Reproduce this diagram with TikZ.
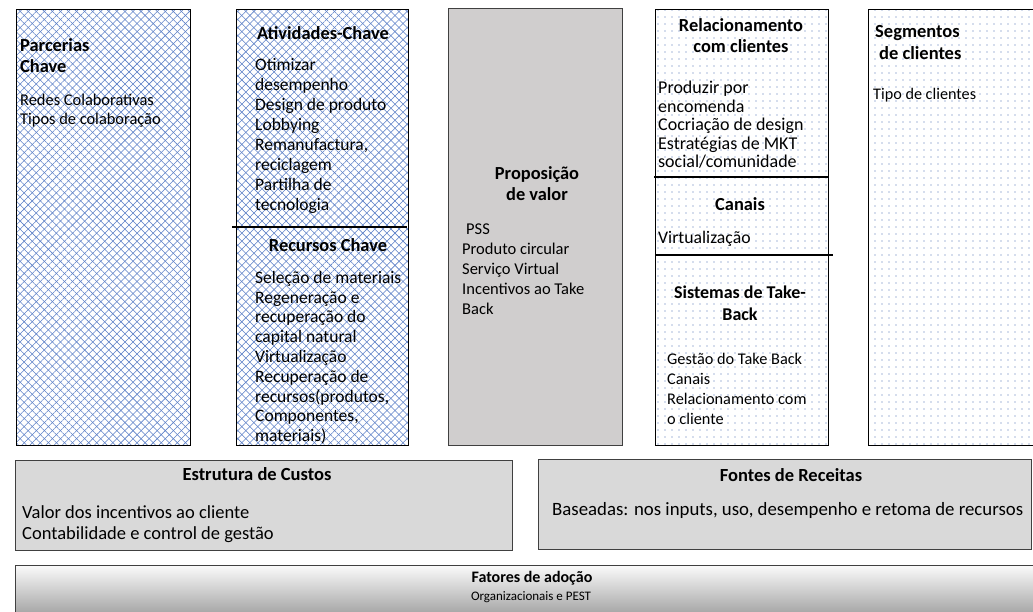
\documentclass[tikz,border=0pt]{standalone}
\usepackage{fontspec}
\setmainfont{Carlito}
\usetikzlibrary{patterns.meta}
\definecolor{hatchblue}{HTML}{5B7FC7}
\definecolor{dotblue}{HTML}{4A6FB5}
\definecolor{propgray}{HTML}{D0CECE}
\definecolor{costgray}{HTML}{D9D9D9}
\definecolor{edgegray}{HTML}{404040}
\definecolor{fatlight}{HTML}{FAFAFA}
\definecolor{fatdark}{HTML}{A2A2A2}
\newcommand{\fsz}[2]{\fontsize{#1pt}{#2pt}\selectfont}
\begin{document}
\begin{tikzpicture}[x=1pt,y=-1pt,
  panel/.style={draw=black, line width=1.2pt, anchor=north west, inner sep=0pt},
  hatchpanel/.style={panel,
    preaction={fill=white},
    preaction={pattern={Lines[angle=45,distance=5.7pt,line width=0.55pt]}, pattern color=hatchblue},
    preaction={pattern={Lines[angle=-45,distance=5.7pt,line width=0.55pt]}, pattern color=hatchblue}},
  dotpanel/.style={panel,
    preaction={fill=white},
    preaction={pattern={Dots[distance=7pt,radius=0.6pt]}, pattern color=dotblue}},
  graypanel/.style={panel, draw=edgegray},
  divider/.style={line width=2.8pt, black},
  txt/.style={inner sep=0pt, anchor=north west, align=left},
  ttl/.style={inner sep=0pt, font=\bfseries\fsz{18.4}{21}, align=center},
]
\useasboundingbox (0,0) rectangle (1033,612);

% panels
\node[hatchpanel, minimum width=174pt, minimum height=436pt] (kp) at (16,9) {};
\node[hatchpanel, minimum width=172pt, minimum height=436pt] (ka) at (236,9) {};
\node[graypanel, fill=propgray, minimum width=174pt, minimum height=437pt] (vp) at (448,8) {};
\node[dotpanel, minimum width=173pt, minimum height=436pt] (cr) at (655,9) {};
\node[dotpanel, minimum width=175pt, minimum height=436pt] (cs) at (868,9) {};
\node[graypanel, fill=costgray, minimum width=497pt, minimum height=90pt] (cost) at (15,460) {};
\node[graypanel, fill=costgray, minimum width=493pt, minimum height=90pt] (rev) at (538,459) {};
\node[graypanel, top color=fatlight, bottom color=fatdark, minimum width=1025pt, minimum height=50pt] (fat) at (15,565) {};

% dividers
\coordinate (d1a) at (232,227); \coordinate (d1b) at (407,227);
\coordinate (d2a) at (654,177); \coordinate (d2b) at (828,177);
\coordinate (d3a) at (656,255); \coordinate (d3b) at (833,255);
\draw[divider] (d1a) -- (d1b);
\draw[divider] (d2a) -- (d2b);
\draw[divider] (d3a) -- (d3b);

% Parcerias
\node[ttl, anchor=north west, align=left] (kpT) at (20,38) {Parcerias\\Chave};
\node[txt, font=\fsz{16.4}{19}] (kpB) at (20,94) {Redes Colaborativas\\Tipos de colaboração};

% Atividades / Recursos
\node[ttl] (kaT) at (323,33) {Atividades-Chave};
\node[txt, font=\fsz{17.5}{20}] (kaB) at (255,58) {Otimizar\\desempenho\\Design de produto\\Lobbying\\Remanufactura,\\reciclagem\\Partilha de\\tecnologia};
\node[ttl] (krT) at (328,245) {Recursos Chave};
\node[txt, font=\fsz{17.5}{19.8}] (krB) at (255,271) {Seleção de materiais\\Regeneração e\\recuperação do\\capital natural\\Virtualização\\Recuperação de\\recursos(produtos,\\Componentes,\\materiais)};

% Proposicao
\node[ttl, anchor=north] (vpT) at (537,166) {Proposição\\de valor};
\node[txt, font=\fsz{16.5}{20}] (vpB) at (462,224) {\hspace{4pt}PSS\\Produto circular\\Serviço Virtual\\Incentivos ao Take\\Back};

% Relacionamento / Canais / Take-back
\node[ttl, anchor=north] (crT) at (741,18) {Relacionamento\\com clientes};
\node[txt, font=\fsz{18}{18.5}] (crB) at (658,81) {Produzir por\\encomenda\\Cocriação de design\\Estratégias de MKT\\social/comunidade};
\node[ttl] (chT) at (740,204) {Canais};
\node[txt, font=\fsz{17.7}{20}] (chB) at (658,231.5) {Virtualização};
\node[ttl, anchor=north, font=\bfseries\fsz{18}{22}] (tbT) at (740,286) {Sistemas de Take-\\Back};
\node[txt, font=\fsz{16.3}{20}] (tbB) at (667,353) {Gestão do Take Back\\Canais\\Relacionamento com\\o cliente};

% Segmentos
\node[ttl, anchor=north west, align=left, font=\bfseries\fsz{18.5}{22}] (csT) at (875,25) {Segmentos\\\hspace{4pt}de clientes};
\node[txt, font=\fsz{16.2}{20}] (csB) at (873,88) {Tipo de clientes};

% Custos / Receitas
\node[ttl, font=\bfseries\fsz{18.5}{21}] (costT) at (257,474) {Estrutura de Custos};
\node[txt, font=\fsz{18.5}{21}] (costB) at (22,505) {Valor dos incentivos ao cliente\\Contabilidade e control de gestão};
\node[ttl, font=\bfseries\fsz{18.5}{21}] (revT) at (791,475) {Fontes de Receitas};
\node[txt, font=\fsz{18.8}{21}] (revB) at (552,502) {Baseadas: nos inputs, uso, desempenho e retoma de recursos};

% Fatores
\node[ttl, font=\bfseries\fsz{16}{18}] (fatT) at (532,578) {Fatores de adoção};
\node[inner sep=0pt, font=\fsz{13}{15}] (fatB) at (531,597) {Organizacionais e PEST};
\end{tikzpicture}
\end{document}
